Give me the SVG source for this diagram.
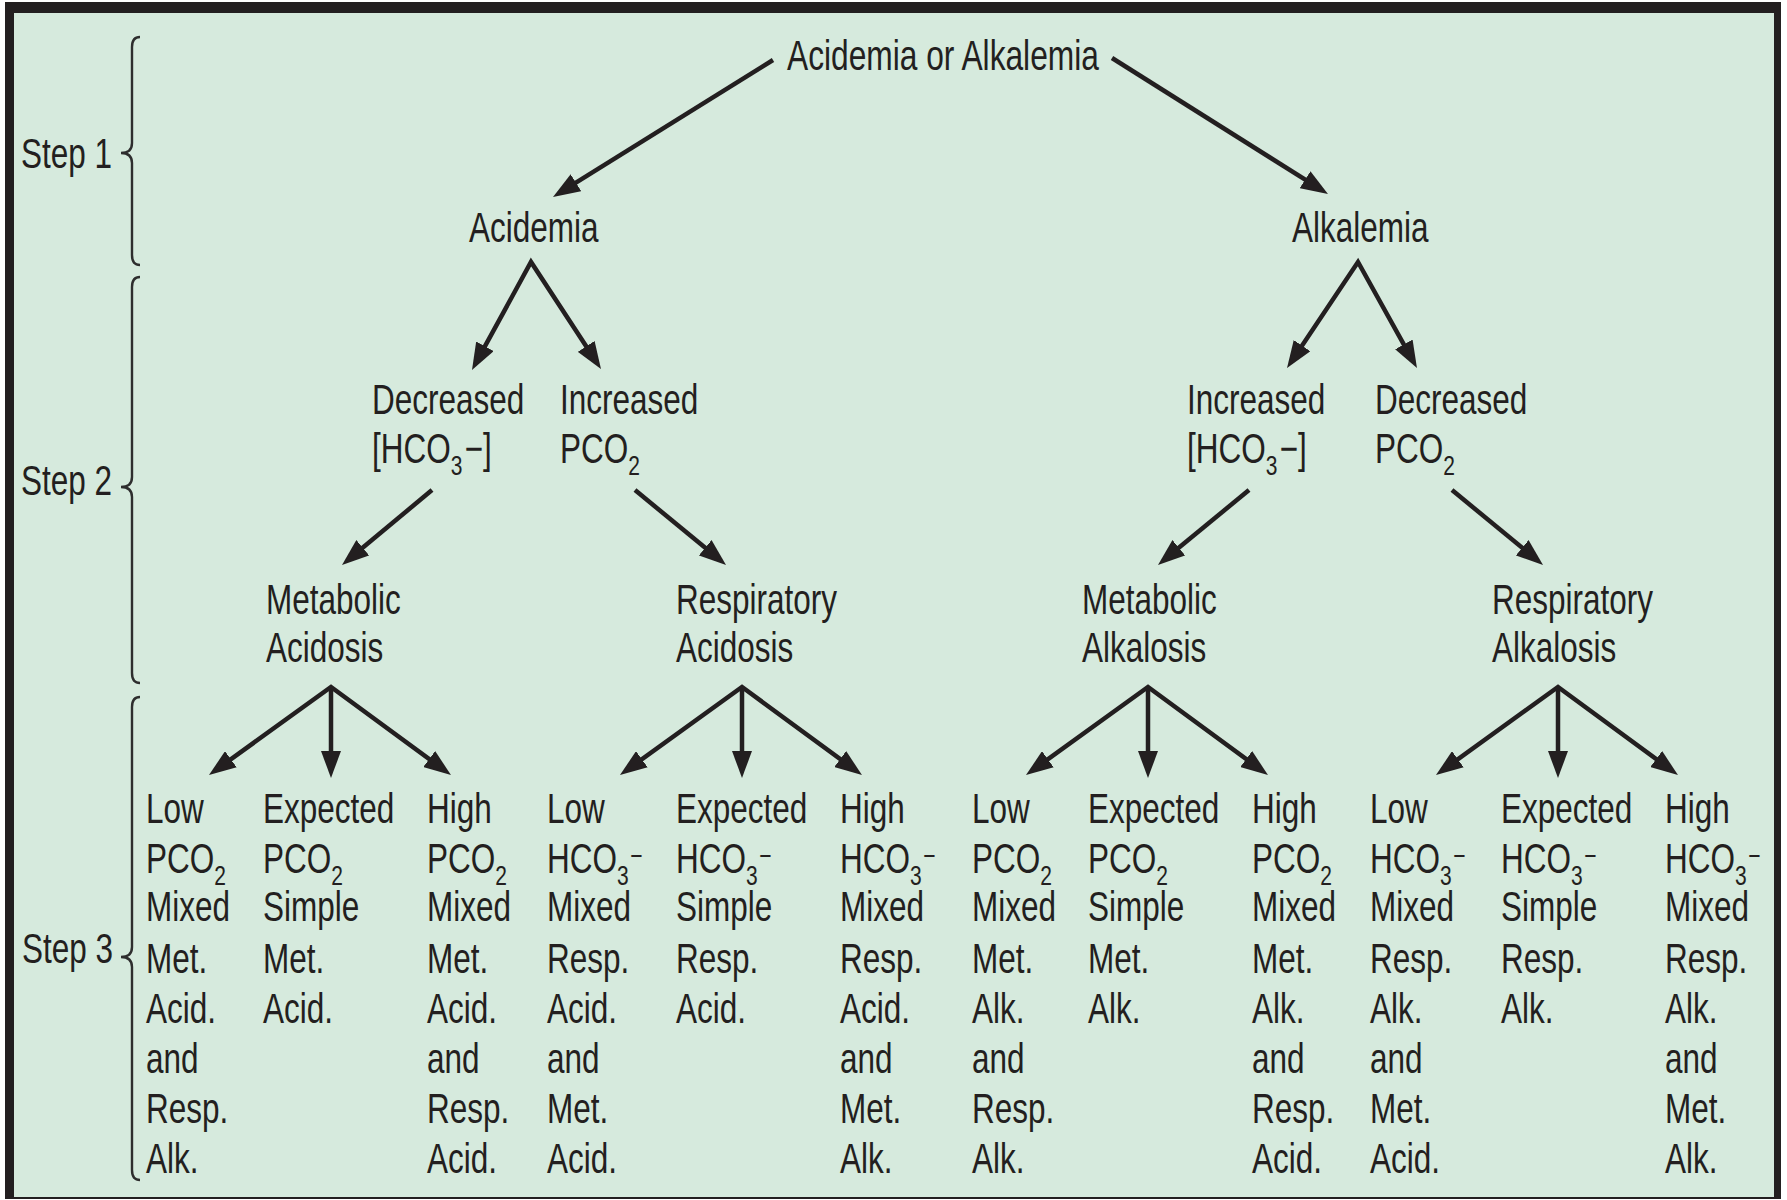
<svg xmlns="http://www.w3.org/2000/svg" width="1787" height="1200" viewBox="0 0 1787 1200">
<style>
text{font-family:"Liberation Sans",Arial,Helvetica,sans-serif;font-size:42px;fill:#231f20}
.sub{font-size:28px}
.conn{fill:none;stroke:#231f20;stroke-width:4.5;stroke-linejoin:miter;marker-end:url(#ah)}
.split{marker-start:url(#ah)}
.brace{fill:none;stroke:#2e2e2e;stroke-width:2.4}
</style>
<defs>
<marker id="ah" viewBox="0 0 27 20" markerWidth="27" markerHeight="20" refX="17" refY="10" orient="auto-start-reverse" markerUnits="userSpaceOnUse">
<path d="M0,0 L27,10 L0,20 z" fill="#231f20"/>
</marker>
</defs>
<rect x="0" y="0" width="1787" height="1200" fill="#ffffff"/>
<rect x="5" y="2" width="1776" height="1197" fill="#231f20"/>
<rect x="14" y="13" width="1760" height="1184" fill="#d6eadd"/>

<g id="steps">
<path class="brace" d="M140,37 Q132,37 132,47 L132,143 Q132,153 121,153 Q132,153 132,163 L132,255 Q132,265 140,265"/>
<path class="brace" d="M140,277 Q132,277 132,287 L132,477 Q132,487 121,487 Q132,487 132,497 L132,673 Q132,683 140,683"/>
<path class="brace" d="M140,697 Q132,697 132,707 L132,947 Q132,957 121,957 Q132,957 132,967 L132,1170 Q132,1180 140,1180"/>
<g transform="translate(21,168) scale(0.75,1)"><text x="0" y="0">Step 1</text></g>
<g transform="translate(21,495) scale(0.75,1)"><text x="0" y="0">Step 2</text></g>
<g transform="translate(22,963) scale(0.75,1)"><text x="0" y="0">Step 3</text></g>
</g>

<g id="connectors">
<line class="conn" x1="773" y1="60" x2="561.5" y2="191.7"/>
<line class="conn" x1="1112" y1="58" x2="1319.5" y2="188.7"/>
<path class="conn split" d="M476.8,361.2 L531,262 L595.5,360.6"/>
<path class="conn split" d="M1292.6,359.7 L1358,262 L1412.1,359.3"/>
<line class="conn" x1="432" y1="490" x2="349.7" y2="558.6"/>
<line class="conn" x1="635" y1="490" x2="718.3" y2="558.6"/>
<line class="conn" x1="1249" y1="490" x2="1165.7" y2="558.6"/>
<line class="conn" x1="1452" y1="490" x2="1535.3" y2="558.6"/>
<path class="conn split" d="M217.1,769.2 L331,687 L442.9,769.1"/>
<line class="conn" x1="331" y1="687" x2="331" y2="768"/>
<path class="conn split" d="M628.1,769.2 L742,687 L853.9,769.1"/>
<line class="conn" x1="742" y1="687" x2="742" y2="768"/>
<path class="conn split" d="M1034.1,769.2 L1148,687 L1259.9,769.1"/>
<line class="conn" x1="1148" y1="687" x2="1148" y2="768"/>
<path class="conn split" d="M1444.1,769.2 L1558,687 L1669.9,769.1"/>
<line class="conn" x1="1558" y1="687" x2="1558" y2="768"/>
</g>

<g id="n-root" transform="translate(787,70) scale(0.755,1)"><text x="0" y="0">Acidemia or Alkalemia</text></g>
<g id="n-acidemia" transform="translate(469,242) scale(0.75,1)"><text x="0" y="0">Acidemia</text></g>
<g id="n-alkalemia" transform="translate(1292,242) scale(0.75,1)"><text x="0" y="0">Alkalemia</text></g>

<g id="n-dec-hco3" transform="translate(372,414) scale(0.75,1)"><text x="0" y="0">Decreased</text><text x="0" y="49">[HCO<tspan class="sub" dy="12">3</tspan><tspan dy="-12" dx="3">−]</tspan></text></g>
<g id="n-inc-pco2" transform="translate(560,414) scale(0.75,1)"><text x="0" y="0">Increased</text><text x="0" y="49">PCO<tspan class="sub" dy="12">2</tspan></text></g>
<g id="n-inc-hco3" transform="translate(1187,414) scale(0.75,1)"><text x="0" y="0">Increased</text><text x="0" y="49">[HCO<tspan class="sub" dy="12">3</tspan><tspan dy="-12" dx="3">−]</tspan></text></g>
<g id="n-dec-pco2" transform="translate(1375,414) scale(0.75,1)"><text x="0" y="0">Decreased</text><text x="0" y="49">PCO<tspan class="sub" dy="12">2</tspan></text></g>

<g id="n-met-acid" transform="translate(266,614) scale(0.75,1)"><text x="0" y="0">Metabolic</text><text x="0" y="48">Acidosis</text></g>
<g id="n-resp-acid" transform="translate(676,614) scale(0.75,1)"><text x="0" y="0">Respiratory</text><text x="0" y="48">Acidosis</text></g>
<g id="n-met-alk" transform="translate(1082,614) scale(0.75,1)"><text x="0" y="0">Metabolic</text><text x="0" y="48">Alkalosis</text></g>
<g id="n-resp-alk" transform="translate(1492,614) scale(0.75,1)"><text x="0" y="0">Respiratory</text><text x="0" y="48">Alkalosis</text></g>

<g id="c1" transform="translate(146,823) scale(0.75,1)"><text x="0" y="0">Low</text><text x="0" y="50">PCO<tspan class="sub" dy="12">2</tspan></text><text x="0" y="98">Mixed</text><text x="0" y="150">Met.</text><text x="0" y="200">Acid.</text><text x="0" y="250">and</text><text x="0" y="300">Resp.</text><text x="0" y="350">Alk.</text></g>
<g id="c2" transform="translate(263,823) scale(0.75,1)"><text x="0" y="0">Expected</text><text x="0" y="50">PCO<tspan class="sub" dy="12">2</tspan></text><text x="0" y="98">Simple</text><text x="0" y="150">Met.</text><text x="0" y="200">Acid.</text></g>
<g id="c3" transform="translate(427,823) scale(0.75,1)"><text x="0" y="0">High</text><text x="0" y="50">PCO<tspan class="sub" dy="12">2</tspan></text><text x="0" y="98">Mixed</text><text x="0" y="150">Met.</text><text x="0" y="200">Acid.</text><text x="0" y="250">and</text><text x="0" y="300">Resp.</text><text x="0" y="350">Acid.</text></g>
<g id="c4" transform="translate(547,823) scale(0.75,1)"><text x="0" y="0">Low</text><text x="0" y="50">HCO<tspan class="sub" dy="12">3</tspan><tspan class="sub" dy="-20" dx="2">−</tspan></text><text x="0" y="98">Mixed</text><text x="0" y="150">Resp.</text><text x="0" y="200">Acid.</text><text x="0" y="250">and</text><text x="0" y="300">Met.</text><text x="0" y="350">Acid.</text></g>
<g id="c5" transform="translate(676,823) scale(0.75,1)"><text x="0" y="0">Expected</text><text x="0" y="50">HCO<tspan class="sub" dy="12">3</tspan><tspan class="sub" dy="-20" dx="2">−</tspan></text><text x="0" y="98">Simple</text><text x="0" y="150">Resp.</text><text x="0" y="200">Acid.</text></g>
<g id="c6" transform="translate(840,823) scale(0.75,1)"><text x="0" y="0">High</text><text x="0" y="50">HCO<tspan class="sub" dy="12">3</tspan><tspan class="sub" dy="-20" dx="2">−</tspan></text><text x="0" y="98">Mixed</text><text x="0" y="150">Resp.</text><text x="0" y="200">Acid.</text><text x="0" y="250">and</text><text x="0" y="300">Met.</text><text x="0" y="350">Alk.</text></g>
<g id="c7" transform="translate(972,823) scale(0.75,1)"><text x="0" y="0">Low</text><text x="0" y="50">PCO<tspan class="sub" dy="12">2</tspan></text><text x="0" y="98">Mixed</text><text x="0" y="150">Met.</text><text x="0" y="200">Alk.</text><text x="0" y="250">and</text><text x="0" y="300">Resp.</text><text x="0" y="350">Alk.</text></g>
<g id="c8" transform="translate(1088,823) scale(0.75,1)"><text x="0" y="0">Expected</text><text x="0" y="50">PCO<tspan class="sub" dy="12">2</tspan></text><text x="0" y="98">Simple</text><text x="0" y="150">Met.</text><text x="0" y="200">Alk.</text></g>
<g id="c9" transform="translate(1252,823) scale(0.75,1)"><text x="0" y="0">High</text><text x="0" y="50">PCO<tspan class="sub" dy="12">2</tspan></text><text x="0" y="98">Mixed</text><text x="0" y="150">Met.</text><text x="0" y="200">Alk.</text><text x="0" y="250">and</text><text x="0" y="300">Resp.</text><text x="0" y="350">Acid.</text></g>
<g id="c10" transform="translate(1370,823) scale(0.75,1)"><text x="0" y="0">Low</text><text x="0" y="50">HCO<tspan class="sub" dy="12">3</tspan><tspan class="sub" dy="-20" dx="2">−</tspan></text><text x="0" y="98">Mixed</text><text x="0" y="150">Resp.</text><text x="0" y="200">Alk.</text><text x="0" y="250">and</text><text x="0" y="300">Met.</text><text x="0" y="350">Acid.</text></g>
<g id="c11" transform="translate(1501,823) scale(0.75,1)"><text x="0" y="0">Expected</text><text x="0" y="50">HCO<tspan class="sub" dy="12">3</tspan><tspan class="sub" dy="-20" dx="2">−</tspan></text><text x="0" y="98">Simple</text><text x="0" y="150">Resp.</text><text x="0" y="200">Alk.</text></g>
<g id="c12" transform="translate(1665,823) scale(0.75,1)"><text x="0" y="0">High</text><text x="0" y="50">HCO<tspan class="sub" dy="12">3</tspan><tspan class="sub" dy="-20" dx="2">−</tspan></text><text x="0" y="98">Mixed</text><text x="0" y="150">Resp.</text><text x="0" y="200">Alk.</text><text x="0" y="250">and</text><text x="0" y="300">Met.</text><text x="0" y="350">Alk.</text></g>
</svg>
